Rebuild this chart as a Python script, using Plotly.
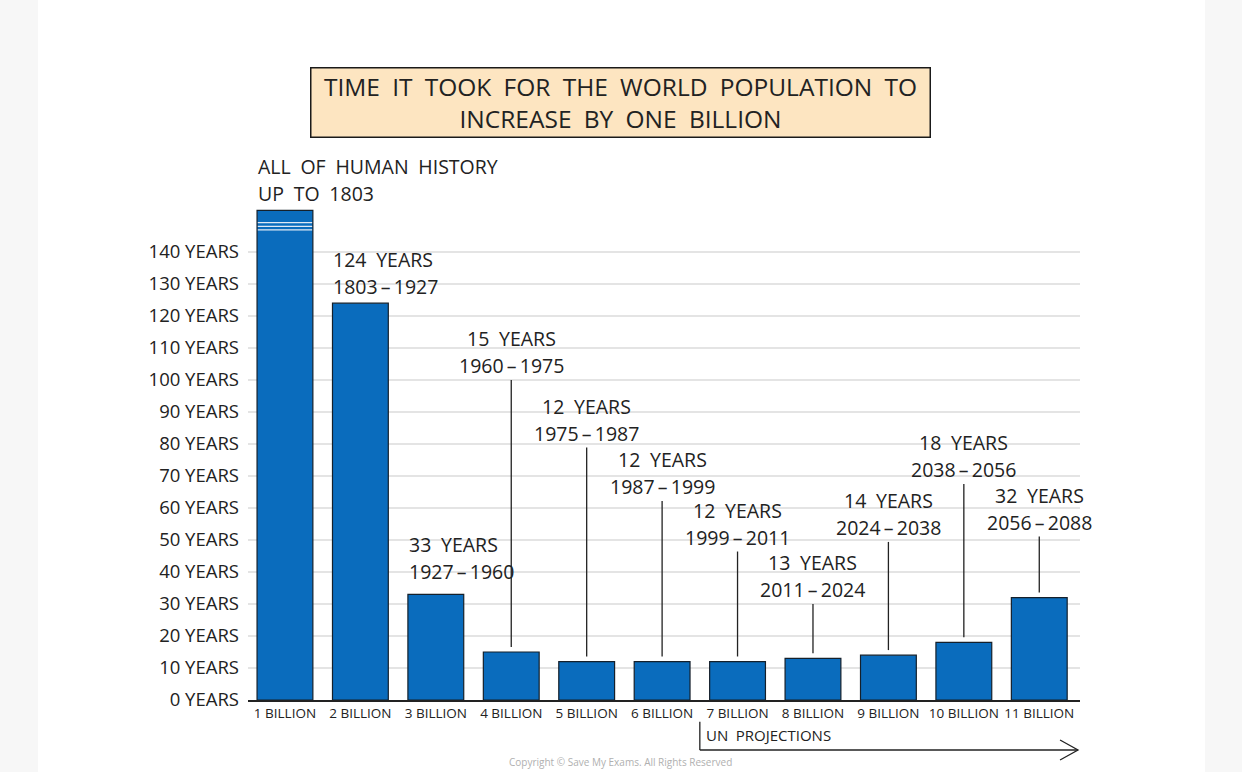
import plotly.graph_objects as go

# ---------------- data ----------------
categories = ["1 BILLION", "2 BILLION", "3 BILLION", "4 BILLION", "5 BILLION", "6 BILLION",
              "7 BILLION", "8 BILLION", "9 BILLION", "10 BILLION", "11 BILLION"]
# years taken to add one billion (first bar = all of human history, drawn truncated)
years_taken = [153, 124, 33, 15, 12, 12, 12, 13, 14, 18, 32]
label_top = ["ALL OF HUMAN HISTORY", "124 YEARS", "33 YEARS", "15 YEARS", "12 YEARS", "12 YEARS",
             "12 YEARS", "13 YEARS", "14 YEARS", "18 YEARS", "32 YEARS"]
label_bottom = ["UP TO 1803", "1803–1927", "1927–1960", "1960–1975", "1975–1987", "1987–1999",
                "1999–2011", "2011–2024", "2024–2038", "2038–2056", "2056–2088"]
ytick_vals = list(range(0, 150, 10))
ytick_text = [f"{v} YEARS" for v in ytick_vals]
projection_start = "7 BILLION"

# ---------------- layout helpers (positions, not data) ----------------
leader_label_height = {3: 108.6, 4: 87.5, 5: 70.8, 6: 55.0, 7: 38.6, 8: 58.0, 9: 76.1, 10: 59.7}
top_label_shift = {0: 1, 1: 1, 2: 7}  # px above bar top
BAR_W = 0.74
BLUE = "#0a6cbd"
INK = "#222222"
FONT = "Open Sans"
LBL = 19.5
HALF_GAP = 13.5  # half the distance between label line centres, px

def sp(s):
    return s.replace(" ", "\u2002").replace("–", "\u2009–\u2009")

fig = go.Figure()
fig.add_trace(go.Bar(
    x=categories, y=years_taken, width=BAR_W,
    marker=dict(color=BLUE, line=dict(color="#15202b", width=1.2)),
    hovertemplate="%{x}: %{y} years<extra></extra>",
))

annotations = []
shapes = [
    # white page panel
    dict(type="rect", xref="paper", yref="paper", x0=-0.2524, x1=1.1502, y0=-0.2, y1=1.45,
         fillcolor="white", line=dict(width=0), layer="below"),
]
for i, (t, b) in enumerate(zip(label_top, label_bottom)):
    if i in leader_label_height:
        yc = leader_label_height[i]
        for txt, ys in ((t, HALF_GAP), (b, -HALF_GAP)):
            annotations.append(dict(
                x=i, y=yc, xref="x", yref="y", xanchor="center", yanchor="middle",
                yshift=ys, text=sp(txt), showarrow=False,
                font=dict(family=FONT, size=LBL, color=INK),
            ))
        shapes.append(dict(type="line", xref="x", yref="y", x0=i, x1=i,
                           y0=years_taken[i] + 1.6, y1=yc - 8.6,
                           line=dict(color=INK, width=1.3)))
    else:
        base = top_label_shift[i]
        for txt, ys in ((t, base + 2 * HALF_GAP), (b, base)):
            annotations.append(dict(
                x=i, y=years_taken[i], xref="x", yref="y",
                xanchor="left", yanchor="bottom", xshift=-29, yshift=ys,
                text=sp(txt), showarrow=False, align="left",
                font=dict(family=FONT, size=LBL, color=INK),
            ))

# title box
annotations.append(dict(
    x=0.4483, y=1.2056, xref="paper", yref="paper", xanchor="center", yanchor="middle",
    text=sp("TIME IT TOOK FOR THE WORLD POPULATION TO") + "<br>" + sp("INCREASE BY ONE BILLION"),
    showarrow=False, align="center", width=612, height=62, borderpad=3,
    bgcolor="#fde5c1", bordercolor="#1a1a1a", borderwidth=1.5,
    font=dict(family=FONT, size=24.5, color=INK),
))

p_idx = categories.index(projection_start)
annotations.append(dict(
    x=p_idx - 0.5, y=-0.0706, xref="x", yref="paper", xanchor="left", yanchor="middle",
    xshift=4, text=sp("UN PROJECTIONS"), showarrow=False,
    font=dict(family=FONT, size=15, color=INK),
))
annotations.append(dict(
    x=0.4483, y=-0.1431, xref="paper", yref="paper", xanchor="center", yanchor="bottom",
    text="Copyright © Save My Exams. All Rights Reserved", showarrow=False,
    font=dict(family=FONT, size=10, color="#b0b0b0"),
))

# break marks on the truncated first bar
for yb in (149.2, 148.0, 146.9):
    shapes.append(dict(type="line", xref="x", yref="y", x0=-BAR_W / 2 + 0.01, x1=BAR_W / 2 - 0.01,
                       y0=yb, y1=yb, line=dict(color="#dfe9f5", width=1.2)))
# UN projections bracket and arrow
shapes += [
    dict(type="line", xref="x", yref="paper", x0=p_idx - 0.5, x1=p_idx - 0.5, y0=-0.044, y1=-0.1008,
         line=dict(color=INK, width=1.3)),
    dict(type="line", xref="x", yref="paper", x0=p_idx - 0.5, x1=len(categories) - 0.49, y0=-0.1008, y1=-0.1008,
         line=dict(color=INK, width=1.3)),
    dict(type="path", xref="paper", yref="paper",
         path="M 0.9760,-0.0806 L 0.9976,-0.1008 L 0.9760,-0.1210",
         line=dict(color=INK, width=1.3)),
]

fig.update_layout(
    width=1242, height=772,
    margin=dict(l=248, r=162, t=204, b=72),
    paper_bgcolor="#f7f7f7", plot_bgcolor="white",
    showlegend=False,
    annotations=annotations, shapes=shapes,
    xaxis=dict(type="category", categoryorder="array", categoryarray=categories,
               range=[-0.49, 10.54], showgrid=False, showline=True, linecolor=INK, linewidth=1.5,
               ticks="", tickfont=dict(family=FONT, size=13.5, color=INK), fixedrange=True),
    yaxis=dict(range=[0, 155], tickvals=ytick_vals, ticktext=ytick_text, showgrid=True,
               gridcolor="#e4e4e4", gridwidth=2, zeroline=False, showline=False, ticks="",
               ticklabelstandoff=8,
               tickfont=dict(family=FONT, size=18.5, color=INK), fixedrange=True),
    font=dict(family=FONT, color=INK),
)

fig.write_html("out.html", config={"displayModeBar": False},
               post_script="document.body.style.margin='0';document.body.style.overflow='hidden';")
